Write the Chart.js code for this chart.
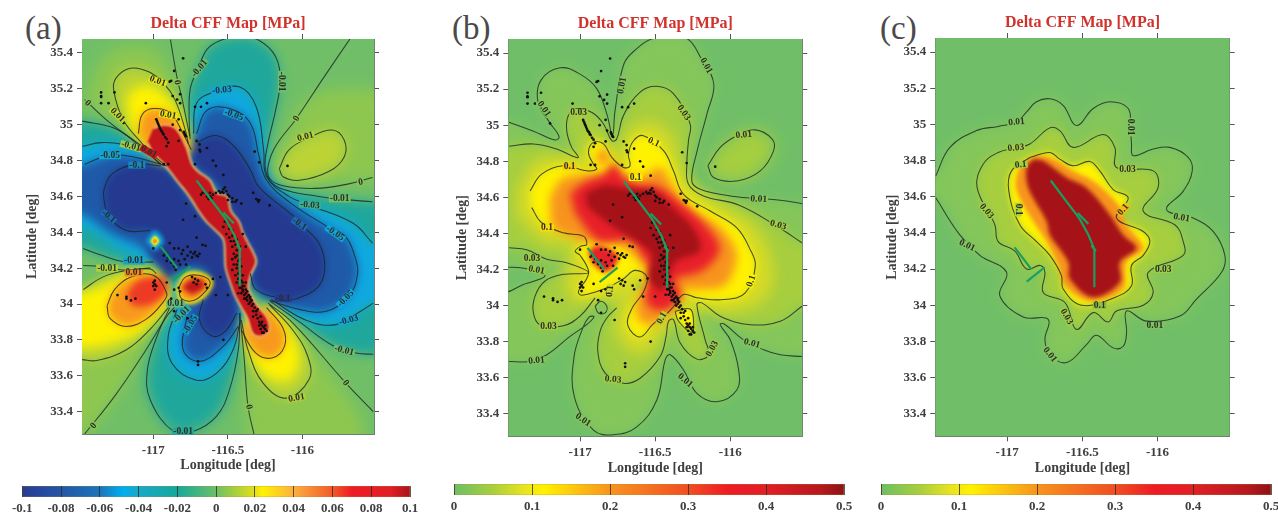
<!DOCTYPE html>
<html>
<head>
<meta charset="utf-8">
<script src="https://cdn.jsdelivr.net/npm/chart.js@4/dist/chart.umd.js"></script>
<style>
  html, body { margin: 0; background: #fff; width: 1278px; height: 512px; overflow: hidden; }
  canvas { position: absolute; filter: blur(0.35px); }
  .tag { position: absolute; font: 33px "Liberation Serif", serif; color: #4a4a4a; line-height: 36px; }
</style>
</head>
<body>
<div class="tag" style="left:25px;top:10px">(a)</div>
<div class="tag" style="left:452px;top:10px">(b)</div>
<div class="tag" style="left:880px;top:10px">(c)</div>
<canvas id="mapA" width="420" height="480" style="left:0;top:0"></canvas>
<canvas id="mapB" width="420" height="480" style="left:430px;top:0"></canvas>
<canvas id="mapC" width="418" height="480" style="left:860px;top:0"></canvas>
<canvas id="barA" width="416" height="28" style="left:8px;top:486px"></canvas>
<canvas id="barB" width="418" height="28" style="left:440px;top:484px"></canvas>
<canvas id="barC" width="418" height="28" style="left:867px;top:484px"></canvas>
<script>
// axis ticks
const lonTicks = [-117, -116.5, -116];
const latTicks = [35.4, 35.2, 35, 34.8, 34.6, 34.4, 34.2, 34, 33.8, 33.6, 33.4];
const lonRange = [-117.478, -115.52];
const latRange = [33.275, 35.478];

// colorbars
const barTicksA = [-0.1, -0.08, -0.06, -0.04, -0.02, 0, 0.02, 0.04, 0.06, 0.08, 0.1];
const barValuesA = [-0.1, -0.08, -0.06, -0.048, -0.04, -0.02, 0, 0.012, 0.02, 0.024, 0.04, 0.06, 0.07, 0.09, 0.1];
const barColorsA = ['#263c93', '#2456a6', '#1b75bc', '#00aeef', '#17a9c9', '#14a89b', '#6cbf67', '#b5d334', '#e3e01c', '#fff200', '#fbb040', '#f15a29', '#ed1c24', '#e11f26', '#a6141a'];
const barTicksB = [0, 0.1, 0.2, 0.3, 0.4, 0.5];
const barValuesB = [0, 0.05, 0.09, 0.115, 0.2, 0.3, 0.35, 0.4, 0.47, 0.5];
const barColorsB = ['#6cbf63', '#a8cf3e', '#e8e41f', '#fff200', '#f7941e', '#f04e23', '#ed1c24', '#e01f26', '#b5191e', '#8e1216'];

// epicentres, lon/lat
const quakePoints = [
  [-116.98,35.03],[-116.975,35.02],[-116.97,35.01],[-116.965,35.0],[-116.96,34.99],[-116.955,34.98],[-116.95,34.97],[-116.945,34.965],[-116.94,34.96],[-116.935,34.95],[-116.93,34.945],[-116.92,34.93],[-116.91,34.92],
  [-116.80,35.37],[-116.86,35.30],[-116.89,35.24],[-116.88,35.245],[-116.82,35.17],[-116.87,35.16],[-116.84,35.14],[-116.82,35.12],[-116.72,35.10],[-116.68,35.10],[-116.64,35.12],[-117.05,35.12],
  [-117.26,35.18],[-117.30,35.12],[-117.20,35.01],[-117.35,35.18],[-117.35,35.16],[-117.35,35.155],[-117.35,35.12],
  [-116.79,34.95],[-116.785,34.94],[-116.78,34.935],[-116.795,34.96],[-116.83,35.03],[-116.87,35.0],[-116.82,34.97],[-116.90,34.90],[-116.83,34.91],[-116.71,34.91],[-116.69,34.89],[-116.69,34.86],[-116.685,34.85],[-116.64,34.87],[-116.91,34.88],[-116.93,34.78],[-116.90,34.78],[-116.72,34.78],[-116.60,34.80],[-116.58,34.77],[-116.53,34.72],
  [-116.32,34.85],[-116.29,34.79],[-116.10,34.77],[-116.33,34.62],[-116.30,34.58],[-116.31,34.585],[-116.29,34.58],[-116.295,34.57],[-116.22,34.55],
  [-116.56,34.63],[-116.53,34.64],[-116.51,34.63],[-116.54,34.625],[-116.52,34.65],[-116.58,34.62],[-116.62,34.62],[-116.67,34.62],[-116.64,34.60],[-116.61,34.59],[-116.60,34.61],[-116.63,34.585],[-116.50,34.58],[-116.45,34.57],[-116.47,34.59],
  [-116.78,34.56],[-116.80,34.47],[-116.72,34.49],[-116.71,34.37],[-116.67,34.33],[-116.65,34.325],
  [-116.53,34.43],[-116.51,34.39],[-116.49,34.37],[-116.47,34.41],[-116.44,34.36],[-116.47,34.32],[-116.42,34.32],[-116.40,34.39],[-116.38,34.32],[-116.50,34.45],[-116.48,34.35],
  [-116.45,34.26],[-116.43,34.24],[-116.46,34.22],[-116.44,34.2],[-116.42,34.18],[-116.45,34.16],[-116.43,34.14],[-116.41,34.13],[-116.40,34.12],[-116.42,34.11],[-116.39,34.10],[-116.41,34.09],[-116.38,34.08],[-116.40,34.07],[-116.38,34.06],[-116.36,34.05],[-116.39,34.05],[-116.37,34.04],[-116.35,34.03],[-116.37,34.02],[-116.35,34.01],[-116.36,34.0],[-116.34,33.99],[-116.40,34.10],[-116.41,34.06],[-116.39,34.03],[-116.38,34.12],
  [-116.33,33.96],[-116.31,33.94],[-116.27,33.90],[-116.27,33.88],[-116.28,33.86],[-116.26,33.87],[-116.27,33.84],[-116.30,33.92],[-116.33,33.93],[-116.25,33.88],[-116.24,33.85],[-116.29,33.90],[-116.31,33.96],
  [-117.0,34.31],[-116.89,34.34],[-116.83,34.31],[-116.77,34.32],[-116.69,34.28],[-116.71,34.27],[-116.73,34.28],[-116.77,34.27],[-116.81,34.28],[-116.70,34.265],[-116.72,34.29],
  [-116.93,34.27],[-116.91,34.24],[-116.88,34.23],[-116.86,34.21],[-116.92,34.28],[-116.99,34.13],[-117.0,34.12],[-116.98,34.10],[-116.99,34.08],[-116.91,34.12],[-116.83,34.09],[-116.86,34.08],[-116.82,34.07],
  [-116.72,34.14],[-116.73,34.12],[-116.71,34.11],[-116.60,34.14],[-116.65,34.11],[-116.64,34.09],[-116.55,34.15],[-116.58,34.05],[-116.50,34.05],
  [-117.24,34.05],[-117.18,34.04],[-117.18,34.03],[-117.15,34.02],[-117.12,34.03],[-116.88,34.03],[-116.86,33.96],[-116.77,33.92],[-116.53,33.80],[-116.70,33.68],[-116.70,33.66],
  [-116.52,34.46],[-116.49,34.42],[-116.47,34.38],[-116.46,34.35],[-116.45,34.33],[-116.44,34.30],[-116.46,34.28],[-116.44,34.27],[-116.42,34.25],[-116.47,34.25],[-116.44,34.22],[-116.41,34.21],[-116.47,34.19],[-116.43,34.17],[-116.40,34.16],[-116.44,34.12],[-116.42,34.09],[-116.40,34.08],[-116.43,34.06],[-116.37,34.07],[-116.38,34.03],[-116.35,34.04],[-116.34,34.02],[-116.33,34.0],[-116.32,33.98],[-116.30,33.97],[-116.28,33.93],[-116.28,33.89],[-116.25,33.86],[-116.26,33.84],[-116.29,33.88],
  [-116.68,34.61],[-116.65,34.62],[-116.62,34.60],[-116.55,34.62],[-116.53,34.62],[-116.50,34.61],[-116.49,34.60],[-116.47,34.57],[-116.44,34.58],[-116.41,34.56],
  [-116.86,34.31],[-116.80,34.30],[-116.75,34.29],[-116.74,34.26],[-116.79,34.25],[-116.83,34.24],[-116.86,34.25],[-116.90,34.26],[-116.82,34.22],[-116.78,34.22],[-116.85,34.19],[-116.70,34.13],[-116.74,34.15],[-116.99,34.11],[-117.0,34.10]
];

// fault traces
const faultMain = [[-116.71,34.69],[-116.62,34.59],[-116.52,34.48],[-116.46,34.39],[-116.42,34.31],[-116.42,34.10]];
const faultBranch = [[-116.53,34.51],[-116.46,34.45]];
const faultTail = [[-116.44,34.33],[-116.41,34.30]];
const faultBearN = [[-116.95,34.32],[-116.84,34.2]];
const faultBearS = [[-116.87,34.13],[-116.75,34.21]];

// panel (a) contours
const a_zero_right = [[-115.68,35.48],[-115.86,35.26],[-116.04,35.035],[-116.18,34.88],[-116.23,34.77],[-116.22,34.70],[-116.13,34.66],[-115.91,34.645],[-115.69,34.67],[-115.53,34.705]];
const a_zero_top = [[-116.885,35.475],[-116.84,35.26],[-116.81,35.155],[-116.755,34.935]];
const a_zero_left = [[-117.46,35.14],[-117.29,35.01],[-117.06,34.87],[-116.93,34.78]];
const a_zero_left2 = [[-117.47,34.215],[-117.36,34.21],[-117.21,34.19],[-117.02,34.2]];
const a_zero_ll = [[-117.46,33.275],[-117.26,33.485],[-117.06,33.73],[-116.91,33.93],[-116.85,33.99]];
const a_zero_vert = [[-116.42,33.95],[-116.39,33.69],[-116.365,33.43],[-116.325,33.275]];
const a_zero_lr = [[-116.23,34.005],[-116.065,33.895],[-115.71,33.56],[-115.525,33.40]];
const a_p01_tl = [[-117.065,34.885],[-117.20,35.025],[-117.265,35.19],[-117.25,35.26],[-117.155,35.315],[-117.03,35.295],[-116.93,35.23],[-116.855,35.14],[-116.785,34.97],[-116.765,34.895]];
const a_p01_r = [[-116.155,34.755],[-116.09,34.86],[-115.95,34.93],[-115.80,34.97],[-115.72,34.915],[-115.72,34.82],[-115.82,34.74],[-116.02,34.69],[-116.13,34.71]];
const a_p01_ul = [[-117.47,34.08],[-117.34,34.15],[-117.19,34.185],[-117.02,34.195],[-116.98,34.17]];
const a_p01_ll = [[-117.48,33.69],[-117.38,33.685],[-117.18,33.745],[-117.02,33.86],[-116.89,33.99]];
const a_p01_lr = [[-116.41,33.91],[-116.365,33.745],[-116.265,33.56],[-116.11,33.475],[-115.955,33.58],[-115.965,33.71],[-116.065,33.855],[-116.22,33.995]];
const a_p01_small = [[-116.85,34.09],[-116.79,34.17],[-116.69,34.18],[-116.60,34.13],[-116.64,34.05],[-116.73,34.0],[-116.83,34.01]];
const a_p05_tl = [[-117.10,34.95],[-117.075,35.055],[-117.0,35.09],[-116.885,35.065],[-116.80,34.95],[-116.745,34.86]];
const a_p05_lobe = [[-117.31,33.99],[-117.26,34.08],[-117.15,34.15],[-117.0,34.16],[-116.91,34.06],[-116.93,34.015],[-117.04,33.92],[-117.18,33.875],[-117.29,33.92]];
const a_p05_small = [[-116.83,34.09],[-116.785,34.15],[-116.695,34.16],[-116.62,34.125],[-116.65,34.07],[-116.73,34.02],[-116.81,34.03]];
const a_p05_lr = [[-116.41,33.855],[-116.31,33.725],[-116.20,33.70],[-116.12,33.765],[-116.13,33.865],[-116.24,33.98]];
const a_m01_top = [[-116.753,34.92],[-116.76,35.06],[-116.75,35.21],[-116.70,35.31],[-116.64,35.42],[-116.55,35.47],[-116.42,35.49],[-116.29,35.47],[-116.18,35.38],[-116.15,35.24],[-116.18,35.08],[-116.23,34.90],[-116.25,34.77],[-116.21,34.68],[-116.09,34.63],[-115.89,34.60],[-115.75,34.585],[-115.53,34.57]];
const a_m01_left = [[-117.476,35.02],[-117.26,34.98],[-117.09,34.88],[-116.95,34.78]];
const a_m01_left2 = [[-117.47,34.31],[-117.34,34.27],[-117.19,34.235],[-117.0,34.235]];
const a_m01_low = [[-116.89,33.98],[-116.975,33.82],[-117.04,33.63],[-117.02,33.465],[-116.865,33.29],[-116.73,33.29],[-116.575,33.375],[-116.49,33.52],[-116.43,33.745],[-116.42,33.95]];
const a_m01_lr = [[-116.215,34.015],[-116.02,33.90],[-115.80,33.77],[-115.63,33.725],[-115.525,33.72]];
const a_m03_top = [[-116.73,34.95],[-116.71,35.12],[-116.60,35.18],[-116.42,35.21],[-116.31,35.10],[-116.26,34.86],[-116.24,34.71],[-116.09,34.60],[-115.95,34.55],[-115.66,34.45],[-115.53,34.34]];
const a_m03_left = [[-117.476,34.88],[-117.35,34.90],[-117.20,34.89],[-117.06,34.85],[-116.95,34.78]];
const a_m03_left2 = [[-117.46,34.43],[-117.34,34.375],[-117.19,34.29]];
const a_m03_low = [[-116.84,33.97],[-116.90,33.82],[-116.875,33.67],[-116.71,33.575],[-116.575,33.615],[-116.465,33.745],[-116.42,33.895]];
const a_m03_lr = [[-116.21,34.025],[-115.975,33.91],[-115.775,33.885],[-115.61,33.96],[-115.525,34.005]];
const a_m05_top = [[-116.71,34.95],[-116.64,35.08],[-116.49,35.09],[-116.35,35.01],[-116.29,34.82],[-116.24,34.69],[-116.09,34.57],[-115.83,34.43],[-115.71,34.375],[-115.65,34.27],[-115.63,34.17],[-115.69,34.04],[-115.84,33.96],[-116.02,33.97],[-116.22,34.02]];
const a_m05_left = [[-117.46,34.78],[-117.29,34.83],[-117.13,34.82],[-116.91,34.77]];
const a_m05_low = [[-116.775,33.93],[-116.80,33.745],[-116.69,33.68],[-116.53,33.765],[-116.43,33.875]];
const a_m10_right = [[-116.71,34.90],[-116.58,34.94],[-116.46,34.88],[-116.35,34.75],[-116.29,34.65],[-116.06,34.49],[-116.02,34.45],[-115.89,34.34],[-115.85,34.21],[-115.89,34.10],[-116.04,34.03],[-116.13,34.03],[-116.31,34.08],[-116.35,34.17]];
const a_m10_left = [[-116.95,34.77],[-117.11,34.78],[-117.27,34.73],[-117.33,34.64],[-117.33,34.58],[-117.30,34.49],[-117.18,34.41],[-117.02,34.41]];
const a_m10_low = [[-116.665,34.025],[-116.69,33.91],[-116.60,33.82],[-116.51,33.855],[-116.44,33.95]];
// panel (a) colour shapes with no line of their own
const a_ridgeE = [[-116.75,34.92],[-116.73,34.78],[-116.60,34.69],[-116.49,34.54],[-116.42,34.41],[-116.32,34.27],[-116.31,34.23],[-116.35,34.155]];
const a_ridgeW = [[-116.95,34.785],[-116.82,34.67],[-116.75,34.58],[-116.62,34.45],[-116.53,34.375],[-116.51,34.27]];
const a_ridge = [[-117.0,34.98],[-116.93,35.0],[-116.85,34.98],[-116.78,34.88],[-116.74,34.78],[-116.70,34.74],[-116.62,34.69],[-116.575,34.62],[-116.505,34.60],[-116.48,34.52],[-116.425,34.46],[-116.40,34.40],[-116.37,34.35],[-116.32,34.27],[-116.31,34.23],[-116.35,34.155],[-116.36,34.08],[-116.30,33.99],[-116.24,33.93],[-116.22,33.86],[-116.27,33.82],[-116.33,33.83],[-116.37,33.92],[-116.41,33.98],[-116.455,34.05],[-116.485,34.12],[-116.515,34.2],[-116.52,34.27],[-116.53,34.36],[-116.595,34.42],[-116.645,34.46],[-116.69,34.51],[-116.735,34.57],[-116.785,34.63],[-116.835,34.68],[-116.88,34.73],[-116.94,34.79],[-117.0,34.84],[-117.04,34.90]];
const a_lobeRed = [[-117.18,34.05],[-117.11,34.125],[-116.995,34.15],[-116.92,34.14],[-116.91,34.07],[-116.97,34.02],[-117.05,33.99],[-117.14,33.99]];
const a_smallRed = [[-116.81,34.09],[-116.75,34.135],[-116.67,34.135],[-116.66,34.09],[-116.74,34.05]];
const a_yellowTl = [[-117.18,35.16],[-117.06,35.22],[-116.93,35.17],[-116.82,35.05],[-116.765,34.88],[-116.93,34.80],[-117.065,34.895],[-117.16,35.0]];
const a_yellowLl = [[-117.7,34.03],[-117.4,34.08],[-117.2,34.15],[-117.0,34.17],[-116.9,34.05],[-117.05,33.87],[-117.2,33.8],[-117.4,33.76],[-117.7,33.76]];
const a_yellowLr = [[-116.39,33.85],[-116.33,33.68],[-116.2,33.58],[-116.08,33.58],[-116.02,33.7],[-116.08,33.85],[-116.2,33.98]];
const a_limeR = [[-116.15,34.72],[-116.1,34.95],[-115.95,35.15],[-115.6,35.2],[-115.3,35.1],[-115.3,34.75],[-115.8,34.68]];
const a_limeTl = [[-117.46,35.14],[-117.3,35.4],[-117.0,35.42],[-116.84,35.2],[-116.76,34.93],[-117.06,34.87]];
const a_limeLr = [[-116.36,33.2],[-116.38,33.7],[-116.2,33.98],[-115.9,33.7],[-115.6,33.35],[-115.6,33.2]];
const a_limeLl = [[-117.7,33.3],[-117.46,33.275],[-117.06,33.73],[-116.89,33.97],[-117.18,33.77],[-117.7,33.72]];
const a_spotCyan = [[-117.05,34.35],[-116.99,34.41],[-116.93,34.35],[-116.99,34.29]];
const a_spotYellow = [[-117.02,34.35],[-116.99,34.38],[-116.96,34.35],[-116.99,34.32]];
const a_spotOrange = [[-117.005,34.35],[-116.99,34.365],[-116.975,34.35],[-116.99,34.335]];

const a_labels = [
  [-116.97,35.243,'0.01',20],[-116.84,35.236,'0',80],[-116.69,35.314,'-0.01',-50],[-116.54,35.193,'-0.03',-5],[-116.14,35.24,'-0.01',90],[-117.44,35.12,'0',45],[-117.24,35.054,'0.01',45],[-116.90,35.054,'0.01',10],[-116.46,35.054,'-0.05',20],[-116.04,35.035,'0',-60],[-115.98,34.933,'0.01',-15],
  [-117.15,34.88,'-0.01',15],[-117.03,34.85,'0.01',30],[-117.29,34.827,'-0.05',0],[-117.11,34.775,'-0.1',0],[-115.61,34.68,'0',-10],[-115.75,34.586,'-0.01',0],[-115.95,34.552,'-0.03',5],[-117.30,34.487,'-0.1',40],[-116.02,34.446,'-0.1',35],[-115.78,34.394,'-0.05',35],
  [-117.31,34.2,'-0.01',0],[-117.13,34.24,'-0.01',0],[-117.13,34.173,'0.01',0],[-116.85,34.0,'0.01',0],[-116.81,33.94,'-0.01',-45],[-116.75,33.885,'-0.05',-60],[-116.13,34.03,'-0.1',0],[-115.71,34.03,'-0.05',-45],[-115.69,33.91,'-0.03',-15],[-115.72,33.74,'-0.01',15],[-115.71,33.56,'0',50],[-116.04,33.476,'0.01',-10],[-116.36,33.426,'0',80],[-116.80,33.29,'-0.01',0],[-117.40,33.32,'0',-50]
];

// panel (b) contours
const b_001_north = [[-117.473,35.017],[-117.31,34.967],[-117.167,34.918],[-117.14,34.937],[-117.205,35.017],[-117.28,35.128],[-117.26,35.25],[-117.133,35.318],[-117.0,35.283],[-116.889,35.203],[-116.822,35.063],[-116.784,34.942],[-116.767,35.082],[-116.707,35.342],[-116.62,35.426],[-116.53,35.476],[-116.4,35.5],[-116.28,35.476],[-116.2,35.38],[-116.11,35.23],[-116.155,35.063],[-116.22,34.859],[-116.256,34.69],[-116.2,34.645],[-116.0,34.608],[-115.667,34.584],[-115.52,34.565]];
const b_001_east = [[-116.149,34.775],[-116.067,34.877],[-115.956,34.942],[-115.833,34.974],[-115.722,34.924],[-115.711,34.859],[-115.8,34.747],[-115.956,34.691],[-116.111,34.71]];
const b_001_nook = [[-117.5,34.214],[-117.356,34.204],[-117.233,34.164],[-117.378,34.117],[-117.5,34.08]];
const b_001_south = [[-117.473,33.69],[-117.344,33.69],[-117.222,33.727],[-117.067,33.829],[-116.956,33.894],[-116.907,33.937],[-116.938,33.937],[-116.982,33.875],[-117.04,33.717],[-117.038,33.494],[-116.911,33.309],[-116.778,33.284],[-116.622,33.327],[-116.489,33.476],[-116.433,33.699],[-116.4,33.727],[-116.311,33.643],[-116.222,33.513],[-116.089,33.467],[-115.956,33.532],[-115.944,33.643],[-116.0,33.81],[-116.067,33.894],[-116.04,33.898],[-115.911,33.81],[-115.778,33.755],[-115.667,33.727],[-115.522,33.717]];
const b_003_north = [[-117.473,34.883],[-117.31,34.896],[-117.156,34.868],[-117.056,34.831],[-117.011,34.822],[-117.056,34.877],[-117.089,34.97],[-117.078,35.054],[-117.022,35.091],[-116.92,35.07],[-116.844,35.007],[-116.789,34.914],[-116.756,34.924],[-116.711,35.054],[-116.6,35.184],[-116.489,35.216],[-116.378,35.175],[-116.267,35.007],[-116.278,34.914],[-116.289,34.784],[-116.278,34.673],[-116.178,34.608],[-115.944,34.558],[-115.689,34.44],[-115.522,34.348]];
const b_003_south = [[-116.756,33.987],[-116.822,33.931],[-116.867,33.857],[-116.882,33.745],[-116.833,33.625],[-116.711,33.569],[-116.6,33.597],[-116.467,33.717],[-116.427,33.829],[-116.411,33.913],[-116.378,33.922],[-116.333,33.792],[-116.222,33.703],[-116.144,33.727],[-116.167,33.81],[-116.222,34.006],[-116.189,34.015],[-116.067,33.941],[-115.867,33.894],[-115.667,33.913],[-115.522,33.996]];
const b_003_west = [[-116.9,34.043],[-117.0,33.941],[-117.111,33.888],[-117.267,33.894],[-117.311,33.959],[-117.3,34.052],[-117.233,34.136],[-117.111,34.173],[-116.944,34.182],[-117.089,34.238],[-117.222,34.257],[-117.356,34.31],[-117.473,34.32]];
const b_003_oval = [[-116.9,33.996],[-116.862,34.024],[-116.822,33.996],[-116.833,33.959],[-116.878,33.959]];
const b_010_main = [[-117.333,34.636],[-117.256,34.729],[-117.111,34.775],[-116.956,34.747],[-116.889,34.756],[-116.911,34.784],[-116.944,34.849],[-116.911,34.905],[-116.844,34.896],[-116.789,34.822],[-116.711,34.766],[-116.667,34.775],[-116.678,34.84],[-116.644,34.914],[-116.578,34.942],[-116.444,34.859],[-116.378,34.747],[-116.311,34.617],[-116.133,34.524],[-115.956,34.431],[-115.867,34.31],[-115.833,34.22],[-115.9,34.07],[-116.044,34.033],[-116.222,34.043],[-116.311,34.061],[-116.38,33.992],[-116.444,33.937],[-116.511,33.9],[-116.6,33.826],[-116.682,33.89],[-116.655,33.983],[-116.578,34.075],[-116.555,34.158],[-116.633,34.195],[-116.711,34.149],[-116.833,34.094],[-116.989,34.057],[-117.011,34.079],[-116.956,34.149],[-116.944,34.195],[-117.0,34.279],[-117.033,34.301],[-116.993,34.33],[-116.956,34.338],[-116.978,34.385],[-117.111,34.403],[-117.256,34.459],[-117.322,34.543]];
const b_010_small = [[-116.367,33.968],[-116.267,33.981],[-116.244,33.913],[-116.256,33.851],[-116.344,33.913]];
// panel (b) colour shapes with no line of their own
const b_lime = [[-117.42,34.64],[-117.3,34.8],[-117.1,34.83],[-116.95,34.85],[-116.95,34.95],[-116.8,34.88],[-116.72,34.83],[-116.7,34.95],[-116.55,35.02],[-116.4,34.95],[-116.3,34.72],[-116.1,34.58],[-115.85,34.45],[-115.72,34.25],[-115.75,34.05],[-116.0,33.96],[-116.33,33.97],[-116.43,33.86],[-116.6,33.73],[-116.76,33.85],[-116.72,34.03],[-116.62,34.1],[-116.8,34.03],[-117.05,34.03],[-117.1,34.2],[-117.05,34.32],[-117.25,34.36],[-117.42,34.5]];
const b_orange = [[-117.2,34.6],[-117.122,34.7],[-116.956,34.729],[-116.822,34.738],[-116.778,34.784],[-116.722,34.729],[-116.578,34.719],[-116.467,34.766],[-116.4,34.691],[-116.289,34.543],[-116.089,34.45],[-115.967,34.32],[-115.967,34.219],[-116.044,34.108],[-116.244,34.089],[-116.311,34.089],[-116.356,34.0],[-116.444,33.922],[-116.533,33.894],[-116.611,33.922],[-116.622,34.033],[-116.556,34.126],[-116.578,34.219],[-116.756,34.338],[-116.911,34.348],[-117.044,34.375],[-117.178,34.431],[-117.2,34.524]];
const b_red = [[-117.067,34.621],[-116.967,34.685],[-116.833,34.731],[-116.771,34.787],[-116.722,34.722],[-116.611,34.667],[-116.5,34.667],[-116.389,34.611],[-116.17,34.454],[-116.07,34.325],[-116.1,34.26],[-116.2,34.186],[-116.367,34.141],[-116.322,34.058],[-116.413,33.983],[-116.522,33.983],[-116.567,34.058],[-116.522,34.185],[-116.589,34.28],[-116.655,34.36],[-116.878,34.36],[-117.033,34.51]];
const b_dark = [[-116.967,34.62],[-116.833,34.667],[-116.7,34.65],[-116.5,34.63],[-116.389,34.546],[-116.24,34.42],[-116.2,34.306],[-116.367,34.24],[-116.433,34.11],[-116.456,34.08],[-116.547,34.15],[-116.522,34.28],[-116.655,34.37],[-116.813,34.455],[-116.947,34.546]];
const b_bearRed = [[-116.947,34.3],[-116.88,34.333],[-116.747,34.28],[-116.767,34.222],[-116.833,34.186],[-116.88,34.206],[-116.922,34.241]];
const b_bump = [[-116.9,34.82],[-116.85,34.87],[-116.8,34.82],[-116.85,34.77]];
const b_patch = [[-116.644,34.1],[-116.611,34.126],[-116.578,34.117],[-116.6,34.089]];

const b_labels = [
  [-116.72,35.22,'0.01',-80],[-116.16,35.33,'0.01',60],[-117.24,35.09,'0.01',55],[-117.01,35.07,'0.03',0],[-116.31,35.07,'0.03',55],[-116.51,34.905,'0.1',25],[-115.91,34.946,'0.01',-5],[-117.07,34.77,'0.1',0],[-116.63,34.71,'0.1',0],[-115.81,34.59,'0.01',3],[-115.68,34.446,'0.03',15],[-117.22,34.43,'0.1',0],
  [-117.32,34.26,'0.03',0],[-117.29,34.197,'0.01',10],[-115.86,34.136,'0.1',-70],[-116.8,34.08,'0.1',-85],[-116.456,33.93,'0.1',-60],[-117.21,33.885,'0.03',0],[-117.29,33.695,'0.01',-5],[-116.12,33.76,'0.03',-60],[-115.855,33.79,'0.01',15],[-116.78,33.59,'0.03',5],[-116.3,33.584,'0.01',40],[-116.98,33.365,'0.01',35]
];

// panel (c) contours
const c_001 = [[-117.475,34.715],[-117.381,34.873],[-117.204,34.966],[-117.06,34.989],[-116.938,35.013],[-116.871,35.069],[-116.805,35.125],[-116.716,35.142],[-116.628,35.106],[-116.539,34.994],[-116.428,35.088],[-116.317,35.125],[-116.195,35.088],[-116.18,34.985],[-116.173,34.892],[-116.162,34.827],[-116.029,34.864],[-115.918,34.873],[-115.796,34.818],[-115.769,34.743],[-115.829,34.631],[-115.94,34.529],[-115.763,34.482],[-115.63,34.408],[-115.552,34.275],[-115.574,34.182],[-115.741,34.034],[-115.851,33.94],[-116.073,33.912],[-116.206,33.968],[-116.206,33.847],[-116.228,33.773],[-116.295,33.764],[-116.406,33.834],[-116.472,33.782],[-116.605,33.683],[-116.716,33.726],[-116.749,33.81],[-116.727,33.922],[-116.894,33.935],[-117.049,34.052],[-117.004,34.182],[-117.182,34.276],[-117.315,34.389],[-117.475,34.594]];
const c_003 = [[-116.942,34.87],[-117.06,34.845],[-117.16,34.78],[-117.2,34.65],[-117.082,34.445],[-117.06,34.352],[-116.95,34.3],[-116.87,34.2],[-116.78,34.22],[-116.749,34.182],[-116.76,34.07],[-116.616,34.015],[-116.539,33.866],[-116.428,33.959],[-116.328,33.907],[-116.273,33.968],[-116.095,34.0],[-116.029,34.07],[-116.062,34.182],[-115.829,34.276],[-115.829,34.352],[-115.885,34.445],[-116.095,34.52],[-115.996,34.65],[-116.029,34.743],[-116.273,34.762],[-116.284,34.873],[-116.361,34.944],[-116.561,34.873],[-116.65,34.966],[-116.716,34.981],[-116.849,34.892]];
const c_010 = [[-116.849,34.817],[-116.971,34.743],[-116.989,34.631],[-116.916,34.445],[-116.805,34.352],[-116.716,34.276],[-116.639,34.164],[-116.628,34.09],[-116.506,34.0],[-116.284,34.043],[-116.173,34.108],[-116.173,34.22],[-116.095,34.276],[-116.051,34.352],[-116.095,34.408],[-116.273,34.482],[-116.195,34.594],[-116.295,34.64],[-116.384,34.743],[-116.45,34.795],[-116.561,34.771],[-116.65,34.808],[-116.716,34.845]];
const c_orange = [[-116.816,34.827],[-116.916,34.762],[-116.938,34.64],[-116.827,34.464],[-116.738,34.352],[-116.661,34.22],[-116.616,34.108],[-116.45,34.024],[-116.228,34.09],[-116.206,34.238],[-116.095,34.315],[-116.206,34.445],[-116.262,34.557],[-116.428,34.687],[-116.561,34.743],[-116.716,34.818]];
const c_red = [[-116.827,34.808],[-116.871,34.762],[-116.86,34.65],[-116.738,34.464],[-116.716,34.389],[-116.594,34.238],[-116.583,34.145],[-116.428,34.043],[-116.25,34.127],[-116.25,34.238],[-116.14,34.315],[-116.228,34.389],[-116.317,34.501],[-116.472,34.65],[-116.605,34.706],[-116.76,34.799]];

const c_labels = [
  [-116.938,35.013,'0.01',-5],[-116.18,34.985,'0.01',90],[-116.942,34.87,'0.03',-5],[-116.91,34.777,'0.1',-5],[-116.2,34.752,'0.03',0],[-117.137,34.52,'0.03',50],[-116.927,34.529,'0.1',90],[-116.228,34.529,'0.1',-50],[-115.84,34.484,'0.01',10],[-117.266,34.33,'0.01',25],
  [-115.962,34.197,'0.03',0],[-116.384,34,'0.1',0],[-116.605,33.937,'0.03',60],[-116.018,33.888,'0.01',0],[-116.716,33.726,'0.01',50]
];

// outside the frame, so the blurred colours run right up to it
const offFrame = [[-117.8,35.8],[-115.2,35.8],[-115.2,33.0],[-117.8,33.0]];

const SERIF = '"Liberation Serif", serif';
const TEXT = '#404040';
const FRAME = '#6f7f72';

const C = {
  m10: '#24398f', m05: '#1f5aa8', m03: '#0fa9e0', m01: '#1fa79c', zero: '#70bf68', lime: '#8ec74f',
  p01: '#bcd335', p03: '#fff200', p05: '#f8991d', p07: '#ee3a24', ridge: '#c4161c',
  f01: '#85c65a', f03: '#a6ce3f', f06: '#d5da26', f10: '#fff200', f17: '#f7941e', f30: '#e8202a', f50: '#a51218'
};

const rev = (a) => [...a].reverse();
const ring = (a) => [...a, a[0]];
const xy = (a) => a.map(([x, y]) => ({ x, y }));

const area = (points, color, blur, rim) => ({
  data: xy(points), fill: 'shape', backgroundColor: color,
  borderColor: rim || 'transparent', borderWidth: rim ? 1.6 : 0,
  pointRadius: 0, tension: 0.35, capBezierPoints: false, blur
});
const contour = (points) => ({
  data: xy(points), fill: false, borderColor: 'rgba(26,38,38,0.8)', borderWidth: 1.05,
  pointRadius: 0, tension: 0.4, capBezierPoints: false
});
const quakes = () => ({
  data: xy(quakePoints), showLine: false, fill: false, pointRadius: 1.35, pointBorderWidth: 0,
  pointBackgroundColor: '#101010'
});
const fault = (points) => ({
  data: xy(points), fill: false, borderColor: '#17a05f', borderWidth: 2.2, pointRadius: 0, tension: 0
});
const faults = () => [faultMain, faultBranch, faultTail, faultBearN, faultBearS].map(fault);

// blur each colour shape so the levels melt into each other
const softFill = {
  id: 'softFill',
  beforeDatasetDraw(chart, args) {
    const ds = chart.data.datasets[args.index];
    if (!ds.blur) return;
    const { ctx, chartArea: a } = chart;
    ctx.save();
    ctx.beginPath();
    ctx.rect(a.left, a.top, a.width, a.height);
    ctx.clip();
    ctx.filter = `blur(${ds.blur}px)`;
  },
  afterDatasetDraw(chart, args) {
    if (chart.data.datasets[args.index].blur) chart.ctx.restore();
  }
};
// filler has to run after softFill has set the filter
Chart.unregister(Chart.Filler);
Chart.register(softFill, Chart.Filler);

const contourLabels = (list) => ({
  id: 'contourLabels',
  afterDatasetsDraw(chart) {
    const { ctx, scales } = chart;
    ctx.save();
    ctx.font = `bold 9.5px ${SERIF}`;
    ctx.textAlign = 'center';
    ctx.textBaseline = 'middle';
    list.forEach(([lon, lat, text, angle]) => {
      const px = scales.x.getPixelForValue(lon);
      const py = scales.y.getPixelForValue(lat);
      const rad = angle * Math.PI / 180;
      const w = ctx.measureText(text).width + 2;
      // break the line under the label using the lighter colour beside it
      const one = ctx.getImageData(px - Math.sin(rad) * 9, py + Math.cos(rad) * 9, 1, 1).data;
      const two = ctx.getImageData(px + Math.sin(rad) * 9, py - Math.cos(rad) * 9, 1, 1).data;
      const d = one[0] + one[1] + one[2] > two[0] + two[1] + two[2] ? one : two;
      ctx.save();
      ctx.translate(px, py);
      ctx.rotate(rad);
      ctx.fillStyle = `rgb(${d[0]},${d[1]},${d[2]})`;
      ctx.fillRect(-w / 2, -3.5, w, 7);
      ctx.fillStyle = '#2b2f2b';
      ctx.fillText(text, 0, 0);
      ctx.restore();
    });
    ctx.restore();
  }
});

const drawMap = (id, frame, datasets, labels) => {
  const canvas = document.getElementById(id);
  const tickFont = { family: SERIF, size: 13, weight: 'bold' };
  const titleFont = { family: SERIF, size: 14, weight: 'bold' };
  const gridOpts = { drawOnChartArea: false, tickLength: 5, tickColor: '#555', tickWidth: 1 };
  const fix = (prop, value) => (s) => { s[prop] = value; };
  datasets.forEach((d, i) => { d.order = -i; });
  new Chart(canvas, {
    type: 'line',
    data: { datasets },
    plugins: [contourLabels(labels)],
    options: {
      responsive: false,
      animation: false,
      events: [],
      layout: { padding: 0 },
      plugins: { legend: { display: false }, tooltip: { enabled: false } },
      scales: {
        x: {
          type: 'linear', position: 'bottom', min: lonRange[0], max: lonRange[1],
          afterBuildTicks: (s) => { s.ticks = lonTicks.map((value) => ({ value })); },
          afterFit: fix('height', canvas.height - frame.bottom),
          grid: gridOpts, border: { color: FRAME, width: 1 },
          ticks: { font: tickFont, color: TEXT, padding: 4, maxRotation: 0, callback: (v) => String(v) },
          title: { display: true, text: 'Longitude [deg]', font: titleFont, color: TEXT, padding: { top: 0, bottom: canvas.height - frame.bottom - 40.2 } }
        },
        x2: {
          type: 'linear', position: 'top', min: lonRange[0], max: lonRange[1],
          afterBuildTicks: (s) => { s.ticks = lonTicks.map((value) => ({ value })); },
          afterFit: fix('height', frame.top),
          grid: gridOpts, border: { color: FRAME, width: 1 }, ticks: { display: false },
          title: { display: true, text: 'Delta CFF Map [MPa]', font: { family: SERIF, size: 16, weight: 'bold' }, color: '#d0322c', padding: { top: frame.top - 24.6, bottom: 0 } }
        },
        y: {
          type: 'linear', position: 'left', min: latRange[0], max: latRange[1],
          afterBuildTicks: (s) => { s.ticks = latTicks.map((value) => ({ value })); },
          afterFit: fix('width', frame.left),
          grid: gridOpts, border: { color: FRAME, width: 1 },
          ticks: { font: tickFont, color: TEXT, padding: 4, callback: (v) => String(v) },
          title: { display: true, text: 'Latitude [deg]', font: titleFont, color: TEXT, padding: { top: 24, bottom: 0 } }
        },
        y2: {
          type: 'linear', position: 'right', min: latRange[0], max: latRange[1],
          afterBuildTicks: (s) => { s.ticks = latTicks.map((value) => ({ value })); },
          afterFit: fix('width', canvas.width - frame.right),
          grid: gridOpts, border: { color: FRAME, width: 1 }, ticks: { display: false }
        }
      }
    }
  });
};

const drawBar = (id, ticks, values, colors) => {
  const lo = ticks[0];
  const hi = ticks[ticks.length - 1];
  new Chart(document.getElementById(id), {
    type: 'bar',
    data: {
      labels: [''],
      datasets: [{
        data: [[lo, hi]],
        barPercentage: 1,
        categoryPercentage: 1,
        borderColor: '#b98a3c',
        borderWidth: 0.6,
        borderSkipped: false,
        backgroundColor: (ctx) => {
          const a = ctx.chart.chartArea;
          if (!a) return colors[0];
          const g = ctx.chart.ctx.createLinearGradient(a.left, 0, a.right, 0);
          values.forEach((v, i) => g.addColorStop((v - lo) / (hi - lo), colors[i]));
          return g;
        }
      }]
    },
    options: {
      indexAxis: 'y',
      responsive: false,
      animation: false,
      events: [],
      layout: { padding: { left: 14, right: 14, top: 0, bottom: 0 } },
      plugins: { legend: { display: false }, tooltip: { enabled: false } },
      scales: {
        y: { display: false },
        x: {
          type: 'linear', min: lo, max: hi,
          afterBuildTicks: (s) => { s.ticks = ticks.map((value) => ({ value })); },
          afterFit: (s) => { s.height = 17; },
          grid: { z: 1, color: 'rgba(40,40,30,0.75)', drawTicks: false, lineWidth: 1 },
          border: { display: false },
          ticks: { font: { family: SERIF, size: 13, weight: 'bold' }, color: TEXT, padding: 4, maxRotation: 0, callback: (v) => String(v) }
        }
      }
    }
  });
};

drawMap('mapA', { left: 82, right: 374, top: 39, bottom: 434 }, [
  area(offFrame, C.zero, 1),
  area(a_limeR, C.lime, 8), area(a_limeTl, C.lime, 8), area(a_limeLr, C.lime, 8), area(a_limeLl, C.lime, 8),
  area([...a_m01_low, [-116.5, 34.28], [-116.75, 34.25], [-116.87, 34.1]], C.m01, 7),
  area([...a_m03_low, [-116.5, 34.28], [-116.75, 34.25], [-116.87, 34.1]], C.m03, 6),
  area([...a_m05_low, [-116.5, 34.28], [-116.75, 34.25], [-116.8, 34.1]], C.m05, 5),
  area([[-117.8, 35.02], ...a_m01_left, ...a_ridgeW, [-116.72, 34.19], [-116.9, 34.2], ...rev(a_m01_left2), [-117.8, 34.31]], C.m01, 6),
  area([[-117.8, 34.88], ...a_m03_left, ...a_ridgeW, [-116.72, 34.2], [-116.9, 34.22], ...rev(a_m03_left2), [-117.8, 34.45]], C.m03, 6),
  area([[-117.8, 34.72], ...a_m05_left, ...a_ridgeW, [-116.75, 34.22], [-116.95, 34.22], [-117.05, 34.3], [-117.3, 34.40], [-117.48, 34.5], [-117.8, 34.56]], C.m05, 5),
  area([...a_m10_left, [-117.03, 34.3], [-116.96, 34.2], [-116.92, 34.12], [-116.85, 34.17], [-116.75, 34.21], [-116.62, 34.16], ...a_m10_low, [-116.47, 34.08], [-116.51, 34.27], ...rev(a_ridgeW)], C.m10, 4),
  area([...a_m01_top, [-115.2, 34.57], [-115.2, 33.72], ...rev(a_m01_lr), ...rev(a_ridgeE)], C.m01, 6),
  area([...a_m03_top, [-115.2, 34.34], [-115.2, 34.0], ...rev(a_m03_lr), ...rev(a_ridgeE)], C.m03, 6),
  area([...a_m05_top, ...rev(a_ridgeE)], C.m05, 5),
  area([...a_m10_right, ...rev(a_ridgeE)], C.m10, 4),
  area(a_p01_tl, C.p01, 6), area(a_p01_r, C.p01, 7), area(a_p01_lr, C.p01, 6),
  area([...a_p01_ul, ...rev(a_p01_ll), [-117.8, 33.69], [-117.8, 34.08]], C.p01, 6),
  area(a_yellowTl, C.p03, 6), area(a_yellowLl, C.p03, 6), area(a_yellowLr, C.p03, 6),
  area(a_p01_small, C.p03, 2),
  area([...a_p05_tl, [-116.95, 34.79], [-117.04, 34.88]], C.p05, 4),
  area(a_p05_lobe, C.p05, 4), area(a_p05_small, C.p05, 2), area(a_p05_lr, C.p05, 4),
  area(a_lobeRed, C.p07, 3), area(a_smallRed, C.ridge, 2.5),
  area(a_ridge, C.ridge, 1.2, '#f7d67a'),
  area(a_spotCyan, C.m03, 2), area(a_spotYellow, C.p03, 1), area(a_spotOrange, C.p05, 0.6),
  ...[a_zero_right, a_zero_top, a_zero_left, a_zero_left2, a_zero_ll, a_zero_vert, a_zero_lr,
      a_p01_tl, a_p01_ul, a_p01_ll, a_p01_lr, a_p05_tl, a_p05_lr,
      a_m01_top, a_m01_left, a_m01_left2, a_m01_low, a_m01_lr,
      a_m03_top, a_m03_left, a_m03_low, a_m03_lr,
      a_m05_top, a_m05_left, a_m05_low, a_m10_right, a_m10_left, a_m10_low].map(contour),
  ...[a_p01_r, a_p05_lobe, a_p05_small].map((c) => contour(ring(c))),
  quakes(), ...faults()
], a_labels);

drawMap('mapB', { left: 78.3, right: 372.3, top: 39, bottom: 436.3 }, [
  area(offFrame, C.zero, 1),
  area([[-117.8, 35.017], ...b_001_north, [-115.2, 34.565], [-115.2, 33.717], ...rev(b_001_south), [-117.8, 33.69]], C.f01, 6),
  area(b_001_east, C.f03, 8),
  area([[-117.8, 34.883], ...b_003_north, [-115.2, 34.348], [-115.2, 33.996], ...rev(b_003_south), ...b_003_west, [-117.8, 34.32]], C.f03, 6),
  area(b_001_nook, C.zero, 4),
  area(b_lime, C.f06, 7),
  area(b_010_main, C.f10, 4),
  area(b_010_small, C.f10, 2),
  area(b_003_oval, C.f01, 2), area(b_patch, C.f03, 2),
  area(b_orange, C.f17, 5),
  area(b_bump, C.f17, 4),
  area(b_red, C.f30, 4),
  area(b_dark, C.f50, 3),
  area(b_bearRed, C.f30, 2.5),
  ...[b_001_north, b_001_south, b_003_north, b_003_south, b_003_west, b_010_main].map(contour),
  ...[b_001_east, b_001_nook, b_003_oval, b_010_small].map((c) => contour(ring(c))),
  quakes(), ...faults()
], b_labels);

drawMap('mapC', { left: 75.3, right: 369.7, top: 38, bottom: 436.3 }, [
  area(offFrame, C.zero, 1),
  area([[-117.8, 34.715], ...c_001, [-117.8, 34.594]], C.f01, 7),
  area(ring(c_003), C.f03, 5),
  area(ring(c_010), C.f10, 3.5),
  area(ring(c_orange), C.f17, 2),
  area(ring(c_red), C.f50, 2),
  contour(c_001), contour(ring(c_003)), contour(ring(c_010)),
  ...faults()
], c_labels);

drawBar('barA', barTicksA, barValuesA, barColorsA);
drawBar('barB', barTicksB, barValuesB, barColorsB);
drawBar('barC', barTicksB, barValuesB, barColorsB);
</script>
</body>
</html>
